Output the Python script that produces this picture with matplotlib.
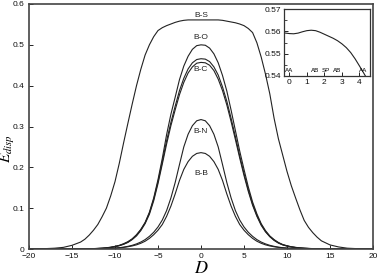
import matplotlib
matplotlib.use("Agg")
import matplotlib.pyplot as plt

plt.rcParams['font.family'] = ['Liberation Sans', 'DejaVu Sans']
plt.rcParams['mathtext.fontset'] = 'stix'

# D positions: coarse on the tails, half steps in the middle
d = list(range(-20, -14)) + [x / 2 for x in range(-28, 29)] + list(range(15, 21))

e_bs = [0.0002, 0.0005, 0.001, 0.002, 0.004, 0.009,
        0.017, 0.024, 0.034, 0.046, 0.06, 0.079, 0.10, 0.13, 0.165, 0.21,
        0.26, 0.308, 0.355, 0.40, 0.44, 0.475, 0.50, 0.52, 0.535, 0.542,
        0.547, 0.551, 0.555, 0.558, 0.56, 0.561, 0.561, 0.561,
        0.561,
        0.561, 0.561, 0.561, 0.561, 0.56, 0.558, 0.556, 0.554, 0.551, 0.547,
        0.54, 0.53, 0.505, 0.47, 0.428, 0.38, 0.32, 0.27, 0.23, 0.19,
        0.155, 0.125, 0.096, 0.07, 0.053, 0.04, 0.029, 0.02,
        0.01, 0.005, 0.002, 0.001, 0.0005, 0.0002]
e_bo = [0, 0, 0, 0, 0.0001, 0.0002,
        0.0003, 0.0005, 0.0007, 0.001, 0.0015, 0.002, 0.003, 0.0045, 0.0065, 0.009,
        0.013, 0.018, 0.025, 0.035, 0.048, 0.065, 0.09, 0.125, 0.17, 0.222,
        0.28, 0.33, 0.372, 0.415, 0.448, 0.472, 0.489, 0.498,
        0.50,
        0.499, 0.492, 0.478, 0.456, 0.425, 0.387, 0.34, 0.29, 0.24, 0.195,
        0.152, 0.115, 0.086, 0.062, 0.045, 0.032, 0.023, 0.016, 0.011, 0.008,
        0.0055, 0.004, 0.0028, 0.002, 0.0014, 0.001, 0.0007, 0.0005,
        0.0002, 0.0001, 0, 0, 0, 0]
e_bc = [0, 0, 0, 0, 0.0001, 0.0002,
        0.0003, 0.0004, 0.0006, 0.0009, 0.0013, 0.0019, 0.0028, 0.004, 0.006, 0.0085,
        0.012, 0.017, 0.024, 0.034, 0.047, 0.064, 0.088, 0.122, 0.165, 0.214,
        0.265, 0.31, 0.35, 0.388, 0.418, 0.441, 0.456, 0.464,
        0.466,
        0.465, 0.459, 0.446, 0.426, 0.397, 0.362, 0.32, 0.275, 0.228, 0.185,
        0.145, 0.11, 0.082, 0.06, 0.043, 0.031, 0.022, 0.015, 0.0105, 0.0075,
        0.0052, 0.0037, 0.0026, 0.0018, 0.0013, 0.0009, 0.0006, 0.0004,
        0.0002, 0.0001, 0, 0, 0, 0]
e_bx = [0, 0, 0, 0, 0.0001, 0.0001,
        0.0002, 0.0003, 0.0005, 0.0008, 0.0012, 0.0017, 0.0025, 0.0037, 0.0055, 0.008,
        0.0115, 0.016, 0.023, 0.032, 0.045, 0.062, 0.085, 0.118, 0.16, 0.208,
        0.257, 0.302, 0.341, 0.378, 0.408, 0.431, 0.446, 0.455,
        0.457,
        0.456, 0.45, 0.437, 0.416, 0.388, 0.353, 0.312, 0.268, 0.223, 0.18,
        0.141, 0.107, 0.08, 0.058, 0.042, 0.03, 0.021, 0.0145, 0.01, 0.007,
        0.005, 0.0035, 0.0025, 0.0017, 0.0012, 0.0008, 0.0005, 0.0003,
        0.0001, 0.0001, 0, 0, 0, 0]
e_bn = [0, 0, 0, 0, 0, 0,
        0.0001, 0.0001, 0.0002, 0.0003, 0.0005, 0.0007, 0.001, 0.0015, 0.0022, 0.0032,
        0.0045, 0.0065, 0.009, 0.0125, 0.017, 0.023, 0.031, 0.041, 0.054, 0.071,
        0.094, 0.125, 0.163, 0.207, 0.25, 0.281, 0.302, 0.314,
        0.317,
        0.314, 0.302, 0.281, 0.25, 0.207, 0.163, 0.125, 0.094, 0.071, 0.054,
        0.041, 0.031, 0.023, 0.017, 0.0125, 0.009, 0.0065, 0.0045, 0.0032, 0.0022,
        0.0015, 0.001, 0.0007, 0.0005, 0.0003, 0.0002, 0.0001, 0.0001,
        0, 0, 0, 0, 0, 0]
e_bb = [0, 0, 0, 0, 0, 0,
        0.0001, 0.0002, 0.0003, 0.0004, 0.0006, 0.0008, 0.0011, 0.0015, 0.0021, 0.0029,
        0.004, 0.0055, 0.0075, 0.0102, 0.014, 0.019, 0.026, 0.035, 0.046, 0.06,
        0.08, 0.105, 0.135, 0.168, 0.195, 0.214, 0.227, 0.234,
        0.236,
        0.234, 0.227, 0.214, 0.195, 0.168, 0.135, 0.105, 0.08, 0.06, 0.046,
        0.035, 0.026, 0.019, 0.014, 0.0102, 0.0075, 0.0055, 0.004, 0.0029, 0.0021,
        0.0015, 0.0011, 0.0008, 0.0006, 0.0004, 0.0003, 0.0002, 0.0001,
        0, 0, 0, 0, 0, 0]

labels = ["B-S", "B-O", "B-C", "B-N", "B-B"]
label_y = [0.571, 0.518, 0.440, 0.287, 0.186]

# inset: path coordinate vs energy
d_in = [-0.3, 0, 0.25, 0.5, 0.75, 1.0, 1.25, 1.5, 1.75, 2.0, 2.25, 2.5, 2.75,
        3.0, 3.25, 3.5, 3.75, 4.0, 4.25, 4.5]
e_in = [0.5593, 0.5590, 0.5589, 0.5592, 0.5598, 0.5603, 0.5605, 0.5603,
        0.5596, 0.5587, 0.5578, 0.5569, 0.5558, 0.5544, 0.5527, 0.5505,
        0.5477, 0.5445, 0.5412, 0.5378]
sites = ["AA", "AB", "SP", "AB", "AA"]
site_x = [0.0, 1.45, 2.1, 2.75, 4.2]

fig = plt.figure(figsize=(3.8, 2.77), dpi=100)
ax = fig.add_axes([29/380, 1-249/277, 344/380, 245/277])

for e in [e_bs, e_bo, e_bc, e_bx, e_bn, e_bb]:
    ax.plot(d, e, color='#222222', lw=0.8)

for lab, y in zip(labels, label_y):
    ax.text(0, y, lab, fontsize=6, ha='center', va='center', color='#222222')

ax.set_xlim(-20, 20)
ax.set_ylim(0, 0.6)
ax.set_xticks([-20, -15, -10, -5, 0, 5, 10, 15, 20])
ax.set_yticks([0, 0.1, 0.2, 0.3, 0.4, 0.5, 0.6])
ax.set_yticklabels(["0", "0.1", "0.2", "0.3", "0.4", "0.5", "0.6"])
ax.tick_params(direction='in', length=3, width=0.6, labelsize=6, pad=3,
               labelcolor='#111111')
for s in ax.spines.values():
    s.set_linewidth(1.2)
    s.set_color('#444444')
ax.set_xlabel(r'$D$', fontsize=13, labelpad=0)
ax.set_ylabel(r'$E_{disp}$', fontsize=11)
ax.yaxis.set_label_coords(-0.036, 0.41)

ins = fig.add_axes([284/380, 1-76/277, 86/380, 67/277])
ins.plot(d_in, e_in, color='#222222', lw=0.8)
ins.set_xlim(-0.3, 4.6)
ins.set_ylim(0.54, 0.57)
ins.set_xticks([0, 1, 2, 3, 4])
ins.set_yticks([0.54, 0.55, 0.56, 0.57])
ins.set_yticks([0.545, 0.555, 0.565], minor=True)
ins.tick_params(direction='in', length=3, width=0.6, labelsize=6, pad=2,
                labelcolor='#111111')
ins.tick_params(which='minor', direction='in', length=2, width=0.5)
for s in ins.spines.values():
    s.set_linewidth(0.9)
    s.set_color('#333333')
for lab, x in zip(sites, site_x):
    ins.text(x, 0.5425, lab, fontsize=4.5, ha='center', va='center')

fig.savefig("out.png", dpi=100)
